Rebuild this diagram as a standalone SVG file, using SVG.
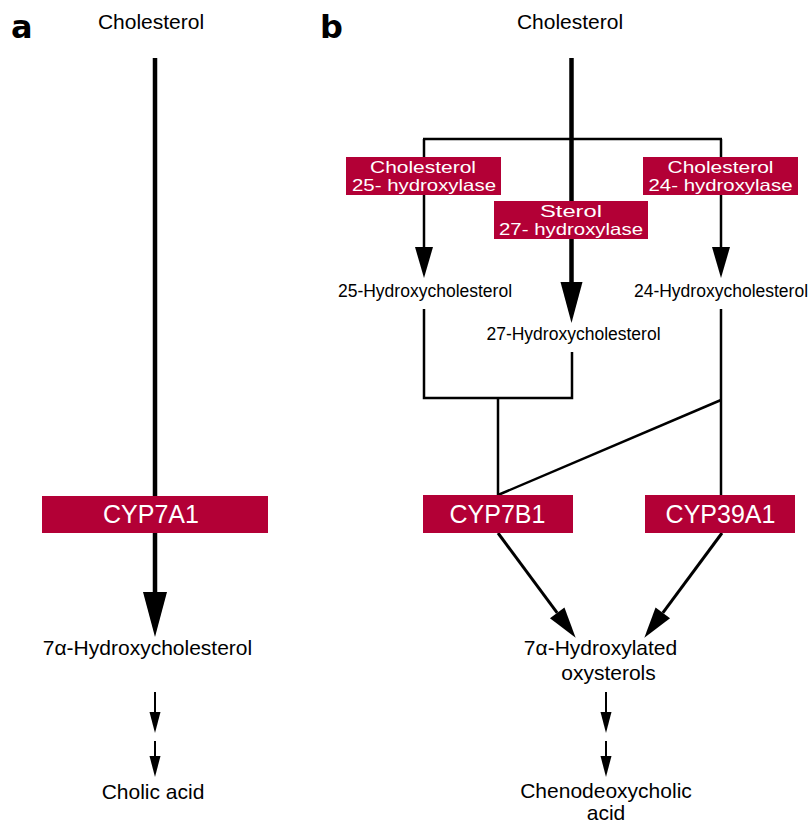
<svg xmlns="http://www.w3.org/2000/svg" width="812" height="825" viewBox="0 0 812 825">
<style>
  .lbl { font-family: "Liberation Sans", Arial, sans-serif; font-size: 21px; fill: #000; text-anchor: middle; }
  .sub { font-family: "Liberation Sans", Arial, sans-serif; font-size: 17.5px; fill: #000; text-anchor: middle; }
  .enz { font-family: "Liberation Sans", Arial, sans-serif; font-size: 16.5px; fill: #fff; text-anchor: middle; }
  .cyp { font-family: "Liberation Sans", Arial, sans-serif; font-size: 25px; fill: #fff; text-anchor: middle; }
  .panel { font-family: "DejaVu Sans", sans-serif; font-size: 32px; font-weight: bold; fill: #000; }
  .box { fill: #b30036; }
  .thick { stroke: #000; stroke-width: 4.5; fill: none; }
  .mid { stroke: #000; stroke-width: 3; fill: none; }
  .thin { stroke: #000; stroke-width: 2.5; fill: none; }
  .sm { stroke: #000; stroke-width: 2; fill: none; }
</style>
<defs>
  <marker id="ahBig" markerUnits="userSpaceOnUse" markerWidth="46" markerHeight="24" refX="0" refY="12" orient="auto" overflow="visible">
    <path d="M0,0 L45,12 L0,24 Z" fill="#000"/>
  </marker>
  <marker id="ahMid" markerUnits="userSpaceOnUse" markerWidth="42" markerHeight="22" refX="0" refY="11" orient="auto" overflow="visible">
    <path d="M0,0 L41,11 L0,22 Z" fill="#000"/>
  </marker>
  <marker id="ahMed" markerUnits="userSpaceOnUse" markerWidth="31" markerHeight="18" refX="0" refY="9" orient="auto" overflow="visible">
    <path d="M0,0 L31,9 L0,18 Z" fill="#000"/>
  </marker>
  <marker id="ahSm" markerUnits="userSpaceOnUse" markerWidth="21" markerHeight="11" refX="0" refY="5.5" orient="auto" overflow="visible">
    <path d="M0,0 L21,5.5 L0,11 Z" fill="#000"/>
  </marker>
</defs>

<g id="connectors">
  <!-- panel a -->
  <line class="thick" x1="155" y1="58" x2="155" y2="592" marker-end="url(#ahBig)"/>
  <line class="sm" x1="155" y1="692" x2="155" y2="712" marker-end="url(#ahSm)"/>
  <line class="sm" x1="155" y1="741" x2="155" y2="756" marker-end="url(#ahSm)"/>
  <!-- panel b -->
  <line class="thick" x1="571.5" y1="58" x2="571.5" y2="282" marker-end="url(#ahMid)"/>
  <line class="thin" x1="423" y1="139" x2="722" y2="139"/>
  <line class="thin" x1="424" y1="139" x2="424" y2="247" marker-end="url(#ahMed)"/>
  <line class="thin" x1="721" y1="139" x2="721" y2="247" marker-end="url(#ahMed)"/>
  <path class="thin" d="M424,309 V398 H572 V352"/>
  <line class="thin" x1="498" y1="398" x2="498" y2="495"/>
  <line class="thin" x1="721" y1="309" x2="721" y2="495"/>
  <line class="thin" x1="498" y1="495" x2="721" y2="400"/>
  <line class="mid" x1="498" y1="533" x2="557.2" y2="612.9" marker-end="url(#ahMed)"/>
  <line class="mid" x1="722" y1="533" x2="662.8" y2="612.9" marker-end="url(#ahMed)"/>
  <line class="sm" x1="606" y1="692" x2="606" y2="712" marker-end="url(#ahSm)"/>
  <line class="sm" x1="606" y1="741" x2="606" y2="756" marker-end="url(#ahSm)"/>
</g>

<g id="panel-labels">
  <text class="panel" x="11" y="38">a</text>
  <text class="panel" x="320" y="38">b</text>
</g>

<g id="a-cholesterol"><text class="lbl" x="151" y="29">Cholesterol</text></g>
<g id="a-cyp7a1">
  <rect class="box" x="42" y="496" width="226" height="37"/>
  <text class="cyp" x="151" y="523">CYP7A1</text>
</g>
<g id="a-7a-hydroxycholesterol"><text class="lbl" x="147.5" y="655">7α-Hydroxycholesterol</text></g>
<g id="a-cholic-acid"><text class="lbl" x="153" y="799">Cholic acid</text></g>

<g id="b-cholesterol"><text class="lbl" x="570" y="29">Cholesterol</text></g>
<g id="b-ch25h">
  <rect class="box" x="346" y="157" width="155" height="38"/>
  <text class="enz" x="423" y="172.5" textLength="106" lengthAdjust="spacingAndGlyphs">Cholesterol</text>
  <text class="enz" x="424" y="191" textLength="144" lengthAdjust="spacingAndGlyphs">25- hydroxylase</text>
</g>
<g id="b-cyp27a1">
  <rect class="box" x="494" y="201" width="154" height="38"/>
  <text class="enz" x="571" y="216.5" textLength="62" lengthAdjust="spacingAndGlyphs">Sterol</text>
  <text class="enz" x="571" y="235" textLength="144" lengthAdjust="spacingAndGlyphs">27- hydroxylase</text>
</g>
<g id="b-cyp46a1">
  <rect class="box" x="643" y="157" width="155" height="38"/>
  <text class="enz" x="720.5" y="172.5" textLength="106" lengthAdjust="spacingAndGlyphs">Cholesterol</text>
  <text class="enz" x="720.5" y="191" textLength="144" lengthAdjust="spacingAndGlyphs">24- hydroxylase</text>
</g>
<g id="b-25hc"><text class="sub" x="425" y="297">25-Hydroxycholesterol</text></g>
<g id="b-27hc"><text class="sub" x="573.5" y="340">27-Hydroxycholesterol</text></g>
<g id="b-24hc"><text class="sub" x="721" y="297">24-Hydroxycholesterol</text></g>
<g id="b-cyp7b1">
  <rect class="box" x="423" y="495" width="150" height="38"/>
  <text class="cyp" x="497.5" y="523">CYP7B1</text>
</g>
<g id="b-cyp39a1">
  <rect class="box" x="645" y="495" width="150" height="38"/>
  <text class="cyp" x="720.5" y="523">CYP39A1</text>
</g>
<g id="b-oxysterols">
  <text class="lbl" x="600.5" y="655">7α-Hydroxylated</text>
  <text class="lbl" x="608.5" y="680">oxysterols</text>
</g>
<g id="b-cdca">
  <text class="lbl" x="606" y="798">Chenodeoxycholic</text>
  <text class="lbl" x="606" y="820">acid</text>
</g>
</svg>
